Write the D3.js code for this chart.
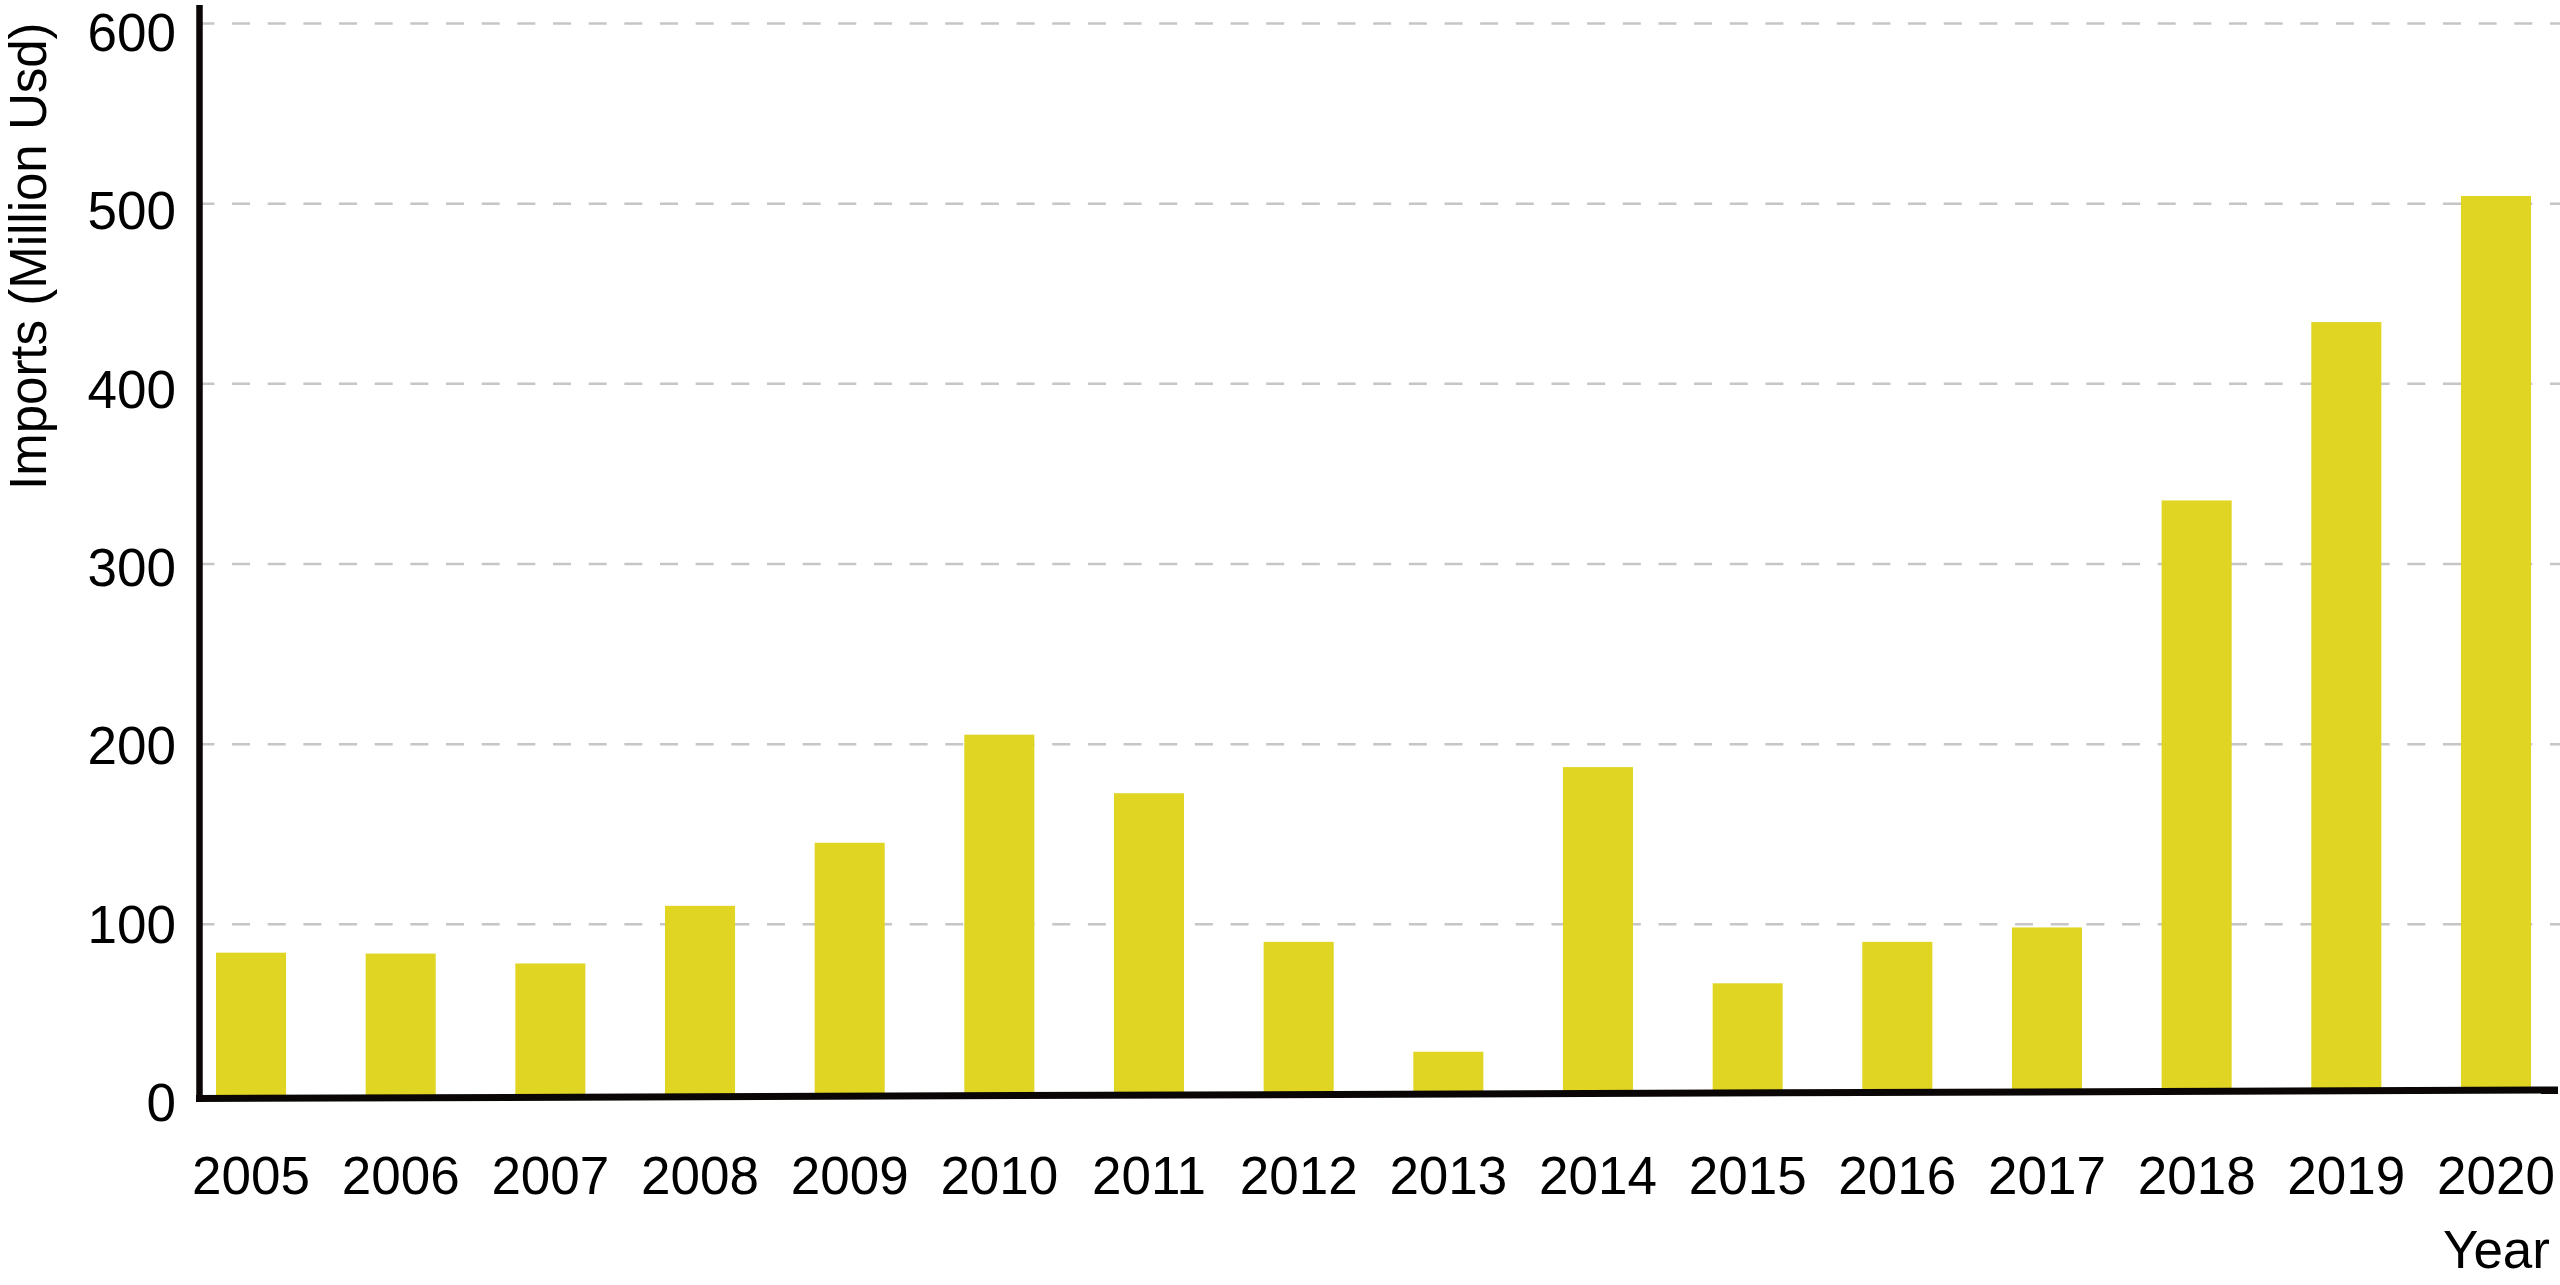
<!DOCTYPE html>
<html>
<head>
<meta charset="utf-8">
<script src="https://cdn.jsdelivr.net/npm/d3@7"></script>
<style>
  body { margin: 0; background: #fff; }
  svg { display: block; }
</style>
</head>
<body>
<div id="chart"></div>
<script>
// données
const years = ["2005", "2006", "2007", "2008", "2009", "2010", "2011", "2012",
               "2013", "2014", "2015", "2016", "2017", "2018", "2019", "2020"];
const imports = [84, 83.5, 78, 110, 145, 205, 172.5, 90, 29, 187, 67, 90, 98, 335, 434, 504];
const yTicks = [0, 100, 200, 300, 400, 500, 600];

const width = 2560;
const height = 1285;

const axisX = 199.5;      // position de l'axe vertical
const axisY = 1098.5;     // axe horizontal (côté gauche)
const tilt = -0.2064;     // l'axe horizontal est légèrement penché
const barColor = "#e1d523";
const fontSize = 53;
const font = "'Liberation Sans', Arial, Helvetica, sans-serif";

const svg = d3.select("#chart")
    .append("svg")
    .attr("width", width)
    .attr("height", height)
    .style("font-family", font);

const x = d3.scaleBand()
    .domain(years)
    .range([216, 2531])
    .paddingInner(0.532)
    .paddingOuter(0);

const y = d3.scaleLinear()
    .domain([0, 600])
    .range([1104, 23]);

// les étiquettes ne tombent pas exactement sur les lignes
const yLabel = y.copy().range([1103.5, 33.5]);

// grille pointillée
const grid = svg.append("g")
    .attr("transform", `translate(${axisX},0)`)
    .call(d3.axisLeft(y).tickValues(yTicks.filter(d => d > 0))
        .tickSize(-(width - axisX)).tickFormat(""));
grid.select(".domain").remove();
grid.selectAll("line")
    .attr("stroke", "#c6c6c6")
    .attr("stroke-width", 2.5)
    .attr("stroke-dasharray", "18 17.66")
    .attr("stroke-dashoffset", 3.1);

// barres, coupées au niveau de l'axe penché
svg.append("clipPath")
    .attr("id", "base")
    .append("rect")
    .attr("x", 0)
    .attr("y", 0)
    .attr("width", width)
    .attr("height", axisY)
    .attr("transform", `rotate(${tilt},${axisX},${axisY})`);

svg.append("g")
    .attr("clip-path", "url(#base)")
    .selectAll("rect")
    .data(years)
    .enter()
    .append("rect")
    .attr("x", d => x(d))
    .attr("width", x.bandwidth())
    .attr("y", (d, i) => y(imports[i]))
    .attr("height", (d, i) => y(0) - y(imports[i]))
    .attr("fill", barColor);

// axe vertical
svg.append("line")
    .attr("x1", axisX).attr("x2", axisX)
    .attr("y1", y(600) - 18).attr("y2", y(0) - 2)
    .attr("stroke", "#0a0606")
    .attr("stroke-width", 6.5);

// axe horizontal
svg.append("g")
    .attr("transform", `translate(0,${axisY}) rotate(${tilt},${axisX},0)`)
    .append("line")
    .attr("x1", axisX - 3.5).attr("x2", width - 2)
    .attr("y1", 0).attr("y2", 0)
    .attr("stroke", "#0a0606")
    .attr("stroke-width", 7);

// étiquettes de l'axe Y
const yAxis = svg.append("g")
    .attr("transform", `translate(${axisX},0)`)
    .call(d3.axisLeft(yLabel).tickValues(yTicks).tickSize(0).tickPadding(23.5));
yAxis.select(".domain").remove();
yAxis.selectAll("text")
    .attr("font-size", fontSize)
    .attr("font-family", font)
    .attr("fill", "#000");

// étiquettes de l'axe X
const xAxis = svg.append("g")
    .attr("transform", `translate(0,${y(0)})`)
    .call(d3.axisBottom(x).tickSize(0).tickPadding(52.6));
xAxis.select(".domain").remove();
xAxis.selectAll("text")
    .attr("font-size", fontSize)
    .attr("font-family", font)
    .attr("fill", "#000");

// titres des axes
svg.append("text")
    .attr("transform", "translate(46,490) rotate(-90)")
    .attr("text-anchor", "start")
    .attr("font-size", 51)
    .attr("fill", "#000")
    .text("Imports (Million Usd)");

svg.append("text")
    .attr("x", 2550)
    .attr("y", 1268)
    .attr("text-anchor", "end")
    .attr("font-size", fontSize)
    .attr("fill", "#000")
    .text("Year");
</script>
</body>
</html>
